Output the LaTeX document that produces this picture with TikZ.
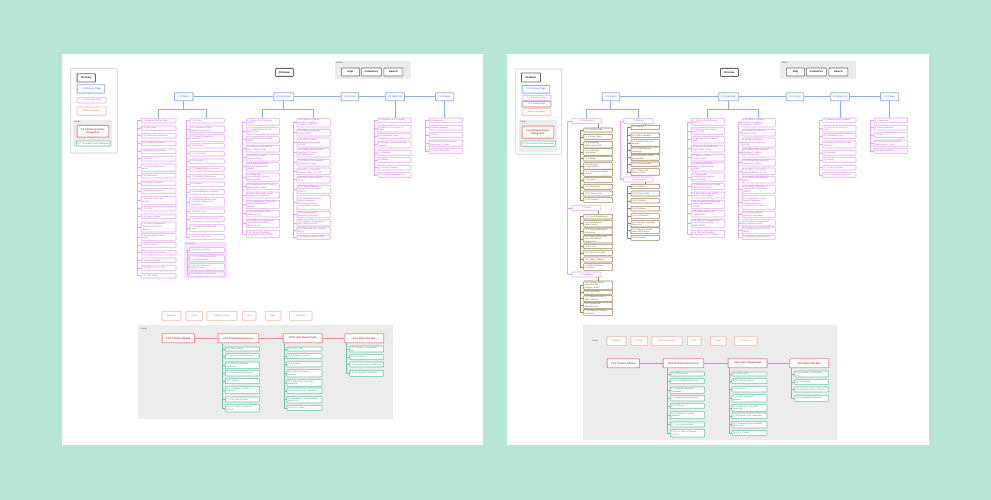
\documentclass[tikz,border=0pt]{standalone}
\usepackage{fontspec}
\setmainfont{Liberation Sans}
\usetikzlibrary{positioning}

\definecolor{mint}{RGB}{184,230,214}
\definecolor{bluewire}{RGB}{140,175,235}
\definecolor{bluetext}{RGB}{50,100,210}
\definecolor{pinkwire}{RGB}{228,165,245}
\definecolor{pinktext}{RGB}{185,80,215}
\definecolor{hotfill}{RGB}{247,228,252}
\definecolor{brownwire}{RGB}{160,130,90}
\definecolor{browntext}{RGB}{115,85,45}
\definecolor{navwire}{RGB}{246,178,165}
\definecolor{navtext}{RGB}{232,100,85}
\definecolor{redwire}{RGB}{238,140,140}
\definecolor{redtext}{RGB}{215,50,50}
\definecolor{greenwire}{RGB}{105,200,160}
\definecolor{greentext}{RGB}{40,150,105}
\definecolor{footgray}{RGB}{236,236,236}
\definecolor{legendgray}{RGB}{205,205,205}

\newcommand{\tinyfont}{\fontsize{2.1}{2.55}\selectfont}
\newcommand{\smallfont}{\fontsize{2.5}{3}\selectfont}

\tikzset{
  pagebox/.style={draw, fill=white, rounded corners=0.7pt, line width=0.6pt,
    inner xsep=1pt, inner ysep=0.2pt, align=left, font=\tinyfont},
  primbox/.style={pagebox, draw=bluewire, text=bluetext, line width=0.9pt, align=center, font=\smallfont},
  secbox/.style={pagebox, draw=pinkwire, text=pinktext},
  terbox/.style={pagebox, draw=brownwire, text=browntext, line width=0.6pt},
  navbox/.style={pagebox, draw=navwire, text=navtext, line width=0.6pt, align=center},
  footbox/.style={pagebox, draw=redwire, text=redtext, line width=0.9pt, align=center, font=\smallfont\bfseries},
  subfootbox/.style={pagebox, draw=greenwire, text=greentext, line width=0.6pt},
  homebox/.style={pagebox, draw=black!60, line width=0.8pt, align=center, font=\smallfont\bfseries},
  utilbox/.style={pagebox, draw=black!60, line width=0.6pt, align=center, font=\smallfont\bfseries},
  bluelink/.style={draw=bluewire, line width=1pt},
  pinklink/.style={draw=pinkwire, line width=0.6pt},
  brownlink/.style={draw=brownwire, line width=0.55pt},
  redlink/.style={draw=redwire, line width=1pt},
  greenlink/.style={draw=greenwire, line width=0.6pt},
  tag/.style={inner sep=0.5pt, anchor=north west, font=\tinyfont, text=black!70},
}

% box from its top left corner to its bottom right corner
\newcommand{\boxat}[7]{%
  \pgfmathsetmacro{\bw}{(#5)-(#3)}\pgfmathsetmacro{\bh}{(#6)-(#4)}%
  \node[#1, anchor=north west, minimum width=\bw pt, minimum height=\bh pt] (#2) at (#3,#4) {#7};}

% column of boxes: style, name, left, right, {top/bottom/text}
\newcommand{\boxcol}[5]{%
  \foreach \ya/\yb/\txt [count=\i] in {#5}{%
    \pgfmathsetmacro{\tw}{(#4)-(#3)-2}\pgfmathsetmacro{\bh}{\yb-\ya}%
    \node[#1, anchor=north west, text width=\tw pt, minimum height=\bh pt] (#2-\i) at (#3,\ya) {\txt};
  }}

% rail on the left of a column: style, name, count, gap
\newcommand{\rail}[4]{%
  \path (#2-1.west) ++(-#4,0) coordinate (#2-r);
  \draw[#1] (#2-r |- #2-1.west) |- (#2-#3.west);
  \foreach \i in {1,...,#3}{\draw[#1] (#2-r |- #2-\i.west) -- (#2-\i.west);}
}

\newcommand{\sitetop}[2]{%
  \boxat{homebox}{#1-home}{275}{68}{293}{76}{00 Home}
  \fill[footgray] (335,61) rectangle (411,79);
  \node[tag] (#1-utl) at (335.3,61.3) {Utilities};
  \boxat{utilbox}{#1-help}{341}{67.7}{359.3}{75.7}{#2}
  \boxat{utilbox}{#1-cont}{361}{67.7}{381}{75.7}{Contact Us}
  \boxat{utilbox}{#1-srch}{383.6}{67.7}{402.6}{75.7}{Search}

  \boxat{primbox}{#1-agen}{273.3}{92.3}{293.3}{100.3}{2.0 Agencies}
  \boxat{primbox}{#1-form}{340.7}{92.3}{358.3}{100.3}{3.0 Forms}
  \boxat{primbox}{#1-abut}{385.3}{92.3}{404}{100.3}{4.0 About Us}
  \boxat{primbox}{#1-news}{435}{92.3}{453.3}{100.3}{5.0 News}
  \draw[bluelink] (#1-top.east) -- (#1-agen.west) (#1-agen.east) -- (#1-form.west)
    (#1-form.east) -- (#1-abut.west) (#1-abut.east) -- (#1-news.west);

  \boxcol{secbox}{#1-ag}{246}{279.3}{
    118.3/125/{2.1 Office of the Secretary\\(OSEC)},
    127.3/134/{2.2 Administrative Review\\Board (ARB)},
    136.3/142.7/{2.3 Benefits Review Board\\(BRB)},
    145/151.7/{2.4 Bureau of International\\Labor Affairs (ILAB)},
    154/160.7/{2.5 Bureau of Labor\\Statistics (BLS)},
    162.3/170.7/{2.6 Employee Benefits\\Security Administration\\(EBSA)},
    172.7/181/{2.7 Employees'\\Compensation Appeals\\Board (ECAB)},
    183.3/189.3/{2.8 Employment and Training\\Administration (ETA)},
    191.7/197.7/{2.9 Mine Safety and Health\\Administration (MSHA)},
    200/208.3/{2.10 Occupational Safety and\\Health Administration\\(OSHA)},
    210/216.7/{2.11 Administrative Law\\Judges (OALJ)},
    219/227.3/{2.12 Office of Congressional\\and Intergovernmental\\Affairs (OCIA)},
    230/237.3/{2.13 Office of Disability\\Employment Policy (ODEP)}}
  \boxcol{secbox}{#1-ah}{296.7}{330}{
    118.3/126.7/{2.14 Office of Federal\\Contract Compliance\\Programs (OFCCP)},
    129/135.7/{2.15 Office of Inspector\\General (OIG)},
    137.7/146.7/{2.16 Office of Labor-\\Management Standards\\(OLMS)},
    148.3/156.7/{2.17 Office of the Assistant\\Secretary for Admin.\\and Management},
    159/165.7/{2.18 Office of the Assistant\\Secretary for Policy},
    167.7/174.3/{2.19 Office of the Chief\\Financial Officer (OCFO)},
    176/182.7/{2.20 Office of the Solicitor\\(SOL)},
    185/193.3/{2.21 Office of Workers'\\Compensation Programs\\(OWCP)},
    195/209.3/{2.22 Ombudsman for the\\Energy Employees\\Occupational Illness\\Compensation Program},
    211/217.3/{2.23 Pension Benefit\\Guaranty Corporation},
    219.3/225.7/{2.24 Veterans' Employment\\and Training Service},
    226.7/233.3/{2.25 Wage and Hour Division\\(WHD)},
    235/239/{2.26 Women's Bureau (WB)}}
  \draw[bluelink] (#1-agen.south) -- ++(0,8) -| (#1-ag-1.north);
  \draw[bluelink] (#1-agen.south) -- ++(0,8) -| (#1-ah-1.north);
  \rail{pinklink}{#1-ag}{13}{3.3}
  \rail{pinklink}{#1-ah}{13}{3.3}

  \boxcol{secbox}{#1-ab}{377.3}{410.7}{
    117.7/122.3/{4.1 Agencies and Programs},
    125/131.7/{4.2 Meet the Secretary of\\Labor},
    133.3/138/{4.3 Leadership Team},
    140.7/147.7/{4.4 Budget, Performance and\\Planning},
    150.3/155/{4.5 Calendar},
    157.3/162/{4.6 History},
    165/169.7/{4.7 Privacy Program},
    172.3/177/{4.8 Doing Business with DOL}}
  \draw[bluelink] (#1-abut.south) -- (#1-abut.south |- #1-ab-1.north);
  \rail{pinklink}{#1-ab}{8}{3.3}

  \boxcol{secbox}{#1-nw}{428.7}{462.3}{
    117.7/122.3/{5.1 Newsroom},
    125/129.7/{5.2 News Releases},
    132.3/137/{5.3 Blog},
    139.7/146.3/{5.4 Economic Data from the\\Department of Labor},
    148.3/153/{5.5 Email Newsletter}}
  \draw[bluelink] (#1-news.south) -- (#1-news.south |- #1-nw-1.north);
  \rail{pinklink}{#1-nw}{5}{3.3}
}

\newcommand{\sitebottom}[2]{%
  \boxat{navbox}{#1-n1}{161.7}{311}{180.7}{320}{Agencies}
  \boxat{navbox}{#1-n2}{185.7}{311}{202.3}{320}{Forms}
  \boxat{navbox}{#1-n3}{206.7}{311}{236.7}{320}{Guidance Search}
  \boxat{navbox}{#1-n4}{242}{311}{255.7}{320}{#2}
  \boxat{navbox}{#1-n5}{265}{311}{280.7}{320}{News}
  \boxat{navbox}{#1-n6}{289.3}{311}{311.7}{320}{Contact Us}

  \boxat{footbox}{#1-fa}{161.7}{333.3}{194}{342.3}{F1.0 Contact Details}
  \boxat{footbox}{#1-fb}{217.7}{333.3}{258.3}{342.3}{F2.0 Federal Government}
  \boxat{footbox}{#1-fc}{282.7}{333.3}{321.7}{342.3}{F3.0 Labor Department}
  \boxat{footbox}{#1-fd}{344.3}{333.3}{383.3}{342.3}{F4.0 About the Site}
  \draw[redlink] (#1-fa.east) -- (#1-fb.west) (#1-fb.east) -- (#1-fc.west) (#1-fc.east) -- (#1-fd.west);

  \boxcol{subfootbox}{#1-fb}{225}{259.3}{
    346.7/350.7/{F2.1 White House},
    353.3/358.3/{F2.2 Coronavirus Resources},
    361.7/368.3/{F2.3 Disaster Recovery\\Assistance},
    370/375.7/{F2.4 DisasterAssistance.gov},
    378.3/383.3/{F2.5 USA.gov},
    386/393.3/{F2.6 Notification of EEO\\Violations},
    396.7/401.7/{F2.7 No Fear Act Data},
    404/411.7/{F2.8 U.S. Office of Special\\Counsel}}
  \boxcol{subfootbox}{#1-fc}{286.7}{321.7}{
    346.7/350.7/{F3.1 About DOL},
    353.3/358.3/{F3.2 Guidance Search},
    361/366.7/{F3.3 Español},
    369.3/376.7/{F3.4 Office of Inspector\\General},
    379/386/{F3.5 Subscribe to the DOL\\Newsletter},
    387.7/393.3/{F3.6 Read the DOL Newsletter},
    396/402.7/{F3.7 Emergency Accountability\\Status Link},
    405/410/{F3.8 A to Z Index}}
  \boxcol{subfootbox}{#1-fd}{349.3}{383.3}{
    345.7/351.7/{F4.1 Freedom of Information\\Act},
    354.3/359.3/{F4.2 Disclaimers},
    361.7/366.7/{F4.3 Plug-Ins Used on DOL.gov},
    370/376/{F4.4 Accessibility Statement}}
  \rail{greenlink}{#1-fb}{8}{2.7}
  \rail{greenlink}{#1-fc}{8}{2.7}
  \rail{greenlink}{#1-fd}{4}{2.7}
  \draw[greenlink] (#1-fb-r |- #1-fb.south) -- (#1-fb-r |- #1-fb-1.west);
  \draw[greenlink] (#1-fc-r |- #1-fc.south) -- (#1-fc-r |- #1-fc-1.west);
  \draw[greenlink] (#1-fd-r |- #1-fd.south) -- (#1-fd-r |- #1-fd-1.west);
}

\begin{document}
\begin{tikzpicture}[x=1pt, y=-1pt]
  \fill[mint] (0,0) rectangle (991,500);
  \useasboundingbox (0,0) rectangle (991,500);
  \fill[white] (62,54) rectangle (483,445);
  \fill[white] (507,54) rectangle (929,445);

  % left board
  \draw[legendgray, line width=0.7pt, fill=white, rounded corners=1pt] (70.7,68.3) rectangle (117.3,153);
  \boxat{homebox}{Lk-home}{76.7}{73.3}{95}{81.7}{00 Home}
  \boxat{primbox}{Lk-prim}{76.7}{84.3}{104.3}{92.7}{1.0 Primary Page}
  \boxat{secbox}{Lk-sec}{76.7}{97.3}{105.7}{102.7}{1.1 Secondary Page}
  \boxat{navbox}{Lk-nav}{76.7}{106.7}{105.7}{115}{Bottom Navigation}
  \fill[footgray] (73.3,120) rectangle (111.7,146.7);
  \node[tag] (Lk-foot) at (73.8,120.5) {Footer};
  \boxat{footbox}{Lk-f1}{76.7}{125}{108.3}{136.7}{F1.0 Primary Footer\\Navigation}
  \boxat{subfootbox}{Lk-f2}{76}{140.7}{110}{145.7}{F1.1 Secondary Footer Navigation}

  \boxat{primbox}{L-top}{174}{92.3}{192.7}{100.3}{1.0 Topics}
  \sitetop{L}{Help}
  \boxcol{secbox}{L-tA}{140.7}{175.7}{
    118.3/122.7/{1.1 American Rescue Plan},
    125.7/130/{1.2 Child Labor},
    133.3/137.7/{1.3 Coronavirus Resources},
    141/145.3/{1.4 Disability Resources},
    148.7/153.3/{1.5 Employee Protections},
    156/160.7/{1.6 Grants},
    163.7/171/{1.7 Family and Medical\\Leave},
    173/177.7/{1.8 Garnishment},
    180.7/185/{1.9 Federal Contracts},
    188.3/193/{1.10 Employment Laws},
    196/204/{1.11 Health Plans and\\Benefits},
    206/210.7/{1.12 Hiring},
    213.7/218.3/{1.13 Hours of Work},
    221.7/231.7/{1.14 Labor-Management\\Standards and Union\\Reports},
    233/240/{1.15 International Labor\\Issues},
    242.3/247/{1.16 Job Corps},
    250/254.7/{1.17 Layoffs and Closings},
    257.7/262.3/{1.18 Leave Benefits},
    265.3/270/{1.19 Major Laws of DOL},
    273/277.7/{1.20 Mine Safety}}
  \boxcol{secbox}{L-tB}{189.3}{224}{
    118.3/122.7/{1.21 Posters},
    125.7/132.3/{1.22 Retirement Plans,\\Benefits and Savings},
    134.3/141/{1.23 Specific Language\\Resources},
    143.3/147.7/{1.24 Statistics},
    151/155.7/{1.25 Termination},
    158.7/163.3/{1.26 Training},
    166.3/171/{1.27 Unemployment Insurance},
    174/178.7/{1.28 Veterans' Employment},
    181.7/186.3/{1.29 Wages},
    189.3/194/{1.30 Whistleblower Protection},
    197/206.7/{1.31 Women's Bureau Data\\on Women, Wages and\\Employment},
    208.7/213.3/{1.32 Work Hours},
    216.3/221/{1.33 Workers' Compensation},
    224.3/231/{1.34 Workplace Safety and\\Health},
    234.3/239/{1.35 Youth and Labor}}
  \draw[bluelink] (L-top.south) -- ++(0,8) -| (L-tA-1.north);
  \draw[bluelink] (L-top.south) -- ++(0,8) -| (L-tB-1.north);
  \rail{pinklink}{L-tA}{20}{3.3}
  \rail{pinklink}{L-tB}{15}{3.3}

  \fill[hotfill] (184,242.3) rectangle (226.7,278.3);
  \node[tag, text=pinktext] (L-hot) at (184.5,242.6) {Hot Topics};
  \boxcol{secbox}{L-tH}{189.3}{224}{
    247.3/252/{1.36 Minimum Wage},
    254.7/261.3/{1.37 COVID-19 and Health\\Coverage Benefits},
    263.3/270/{1.38 Paid Family and\\Medical Leave},
    271.7/276/{1.39 Veterans Employment}}
  \rail{pinklink}{L-tH}{4}{2.3}

  \fill[footgray] (138.3,325) rectangle (393.3,419.3);
  \node[tag] (L-foot) at (140,327) {Footer};
  \sitebottom{L}{Help}

  % right board
  \draw[legendgray, line width=0.7pt, fill=white, rounded corners=1pt] (515.7,69) rectangle (561.7,154.3);
  \boxat{homebox}{Rk-home}{521}{72.7}{540}{81.7}{00 Home}
  \boxat{primbox}{Rk-prim}{521.7}{85}{549.3}{92.7}{1.0 Primary Page}
  \boxat{secbox}{Rk-sec}{521.7}{95}{550.7}{100}{1.1 Secondary Page}
  \boxat{terbox}{Rk-ter}{521.7}{101}{550.7}{106.7}{1.1.1 Tertiary Page}
  \boxat{navbox}{Rk-nav}{521.7}{108.3}{550.7}{115}{Bottom Navigation}
  \fill[footgray] (519.3,120) rectangle (556.7,151.7);
  \node[tag] (Rk-foot) at (519.8,120.5) {Footer};
  \boxat{footbox}{Rk-f1}{521.7}{125.7}{553.3}{137.7}{F1.0 Primary Footer\\Navigation}
  \boxat{subfootbox}{Rk-f2}{520.7}{140.7}{555}{146}{F1.1 Secondary Footer Navigation}

  \boxat{primbox}{R-top}{601.7}{92.3}{619.3}{100.3}{1.0 Topics}
  \begin{scope}[shift={(445,0)}]
    \sitetop{R}{FAQ}
  \end{scope}

  \boxat{secbox}{R-emp}{571.7}{118.3}{601}{123.3}{1.1 Employment}
  \boxat{secbox}{R-ben}{623.3}{118.3}{652.7}{123.3}{1.2 Benefits}
  \boxat{secbox}{R-hir}{571.7}{205}{600.7}{210}{1.3 Hiring}
  \boxat{secbox}{R-cmp}{571.7}{271.7}{600.7}{276.7}{1.4 Compliance}
  \boxat{secbox}{R-res}{623.3}{176.7}{652.7}{181.7}{1.5 Resources}
  \draw[bluelink] (R-top.south) -- ++(0,8) -| (R-emp.north);
  \draw[bluelink] (R-top.south) -- ++(0,8) -| (R-ben.north);
  \path (R-emp.west) ++(-4.4,0) coordinate (R-emp-r);
  \draw[pinklink] (R-emp.west) -- (R-emp-r) |- (R-cmp.west);
  \draw[pinklink] (R-emp-r |- R-hir.west) -- (R-hir.west);
  \draw[pinklink] (R-ben.west) -- ++(-3.3,0) |- (R-res.west);

  \boxcol{terbox}{R-eA}{583.3}{612.3}{
    127.7/131.7/{1.1.1 Federal Jobs},
    134/139/{1.1.2 Green Jobs},
    141/147.7/{1.1.3 Employee\\Rights and Health},
    148.3/155/{1.1.4 Veterans'\\Employment},
    156/160.7/{1.1.5 Wages},
    162.3/169/{1.1.6 Workers'\\Compensation},
    169.3/176/{1.1.7 Overtime and Meal\\Periods},
    177.3/182.3/{1.1.8 Leave},
    184/189/{1.1.9 Termination},
    190.7/195.7/{1.1.10 Work Hours},
    197.3/202.3/{1.1.11 Training}}
  \boxcol{terbox}{R-hA}{583.3}{612.3}{
    214/218.7/{1.3.1 Youth Employment},
    220/226.7/{1.3.2 International\\Labor Issues},
    227.7/234.3/{1.3.3 Equal Employment\\Opportunity},
    235/242.7/{1.3.4 Work, Home, Day\\Care and Women\\Employment},
    244/248.3/{1.3.5 Grants},
    250/255/{1.3.6 Youth and Labor},
    256.7/261.7/{1.3.7 Labor Relations},
    263.3/270/{1.3.8 Whistleblower\\Protection}}
  \boxcol{terbox}{R-cA}{583.3}{612.3}{
    280.7/289.3/{1.4.1 Industry Recog.\\Apprenticeship\\Program (IRAP)},
    290/294/{1.4.2 Job Corps},
    295.3/301.3/{1.4.3 Apprenticeship \&\\Skills Training},
    302/308.3/{1.4.4 Registered\\Apprenticeship},
    309/315/{1.4.5 Employer Dispute\\Resolution}}
  \boxcol{terbox}{R-bA}{630.7}{659.3}{
    125/129.3/{1.2.1 Injuries},
    132.7/137.3/{1.2.2 Other Benefits},
    139.3/146/{1.2.3 Health Plans and\\Benefits},
    146.7/153.3/{1.2.4 Unemployment\\Insurance},
    154/160/{1.2.5 Retirement Plans\\and Benefits},
    161.7/166/{1.2.6 Leave Benefits},
    168.3/175/{1.2.7 Family and\\Medical Leave}}
  \boxcol{terbox}{R-rA}{630.7}{659.3}{
    184/188.3/{1.5.1 Posters},
    190.7/195.7/{1.5.2 Rescue Plan},
    198.3/202.7/{1.5.3 Statistics},
    206/210.7/{1.5.4 Guidance},
    213.3/218.3/{1.5.5 Coronavirus},
    220/226.7/{1.5.6 Specific Language\\Resources},
    227.3/233.3/{1.5.7 Important Major\\Laws and Statutes},
    235/240/{1.5.8 Disability}}
  \draw[brownlink] (R-eA-1.north) -- (R-eA-1.north |- R-emp.south);
  \draw[brownlink] (R-hA-1.north) -- (R-hA-1.north |- R-hir.south);
  \draw[brownlink] (R-cA-1.north) -- (R-cA-1.north |- R-cmp.south);
  \draw[brownlink] (R-bA-1.north) -- (R-bA-1.north |- R-ben.south);
  \draw[brownlink] (R-rA-1.north) -- (R-rA-1.north |- R-res.south);
  \rail{brownlink}{R-eA}{11}{3.3}
  \rail{brownlink}{R-hA}{8}{3.3}
  \rail{brownlink}{R-cA}{5}{3.3}
  \rail{brownlink}{R-bA}{7}{3.3}
  \rail{brownlink}{R-rA}{8}{3.3}

  \fill[footgray] (583.3,325) rectangle (837.3,440);
  \node[tag] (R-foot) at (591.5,339.5) {Footer};
  \begin{scope}[shift={(445,25)}]
    \sitebottom{R}{FAQ}
  \end{scope}
\end{tikzpicture}
\end{document}
